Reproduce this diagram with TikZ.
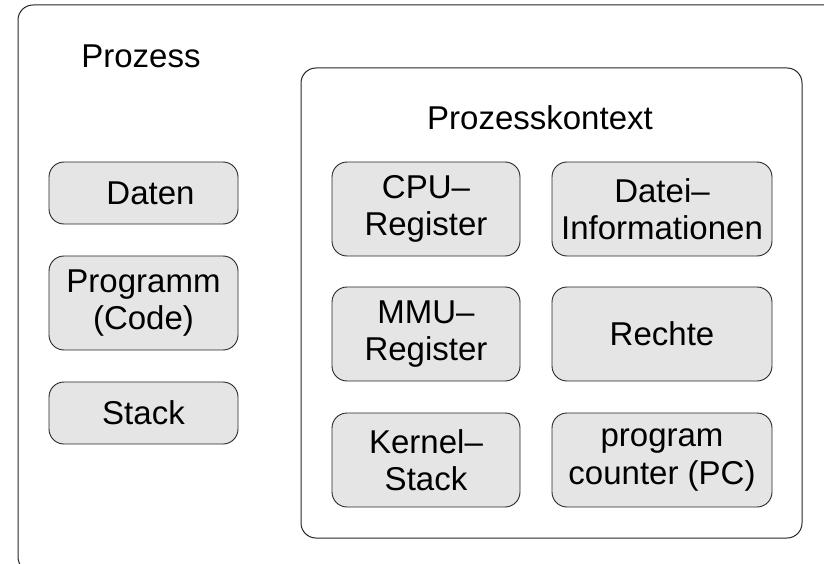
\documentclass[tikz,border=0pt]{standalone}
\usepackage{fontspec}
\setmainfont{Liberation Sans}
\definecolor{kastengrau}{gray}{0.9}

\begin{document}
\begin{tikzpicture}[x=1pt, y=-1pt]

  % Stile der Kaesten
  \tikzstyle{kasten} = [draw=black!85, fill=kastengrau, line width=0.9pt, rounded corners=15pt, align=center, inner sep=0pt, font=\fontsize{33}{37.5}\selectfont]
  \tikzstyle{klein} = [kasten, minimum width=189pt, minimum height=62pt]
  \tikzstyle{gross} = [kasten, minimum width=188pt, minimum height=94pt]
  \tikzstyle{breit} = [kasten, minimum width=220pt, minimum height=94pt]
  \tikzstyle{rahmen} = [draw=black!85, line width=1pt, rounded corners=15pt]
  \tikzstyle{titel} = [anchor=base, inner sep=0pt, font=\fontsize{33}{37.5}\selectfont]

  \clip (0,0) rectangle (824,564);

  % Rahmen
  \draw[rahmen] (18,5) rectangle (860,572) ;
  \draw[rahmen] (301,68) rectangle (802,538) ;

  \draw (141,68) node[titel] (prozess) {Prozess};
  \draw (540,130) node[titel] (kontext) {Prozesskontext};

  % Prozess
  \draw (143.5,193) node[klein] (daten) {\hspace*{14pt}Daten};
  \draw (143.5,303) node[klein, minimum height=94pt] (programm) {Programm\\(Code)};
  \draw (143.5,413) node[klein] (stack) {Stack};

  % Prozesskontext
  \draw (426,209) node[gross] (cpu) {CPU--\\Register};
  \draw (662,209) node[breit] (datei) {Datei--\\Informationen};
  \draw (426,334) node[gross] (mmu) {MMU--\\Register};
  \draw (662,334) node[breit] (rechte) {Rechte};
  \draw (426,460) node[gross] (kernel) {Kernel--\\Stack};
  \draw (662,460) node[breit] (pc) {program\\counter (PC)};

\end{tikzpicture}
\end{document}
